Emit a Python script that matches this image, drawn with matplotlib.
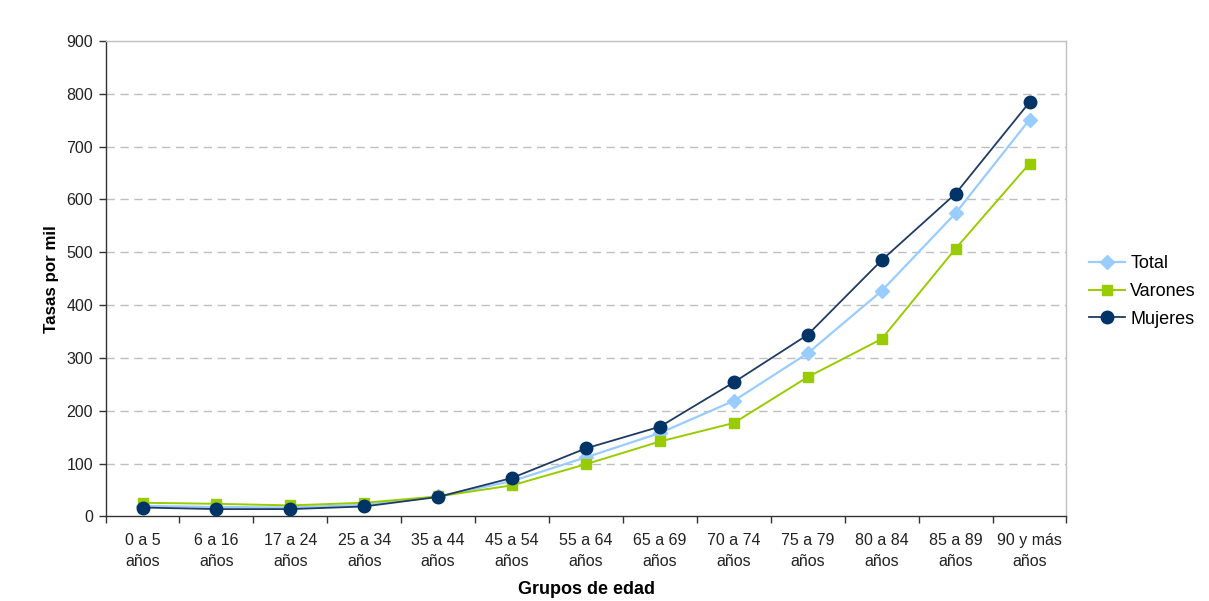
import matplotlib
matplotlib.use("Agg")
import matplotlib.pyplot as plt
import numpy as np

plt.rcParams['font.family'] = ['Liberation Sans', 'DejaVu Sans']

categories = ["0 a 5\naños", "6 a 16\naños", "17 a 24\naños", "25 a 34\naños", "35 a 44\naños",
              "45 a 54\naños", "55 a 64\naños", "65 a 69\naños", "70 a 74\naños", "75 a 79\naños",
              "80 a 84\naños", "85 a 89\naños", "90 y más\naños"]
total = [20, 18, 17, 22, 38, 67, 112, 158, 219, 309, 427, 574, 751]
varones = [26, 24, 21, 26, 38, 59, 99, 142, 177, 264, 336, 507, 668]
mujeres = [17, 14, 14, 19, 37, 73, 129, 170, 254, 344, 485, 611, 784]
yticks = [0, 100, 200, 300, 400, 500, 600, 700, 800, 900]

fig = plt.figure(figsize=(12.09, 6.01), dpi=100)
ax = fig.add_axes([0.0873, 0.1406, 0.7948, 0.7912])

x = np.arange(len(categories))
ax.plot(x, total, color='#99CCFF', lw=1.6, marker='D', markersize=7, label='Total', zorder=3)
ax.plot(x, varones, color='#99CC00', lw=1.4, marker='s', markersize=7, label='Varones', zorder=3)
ax.plot(x, mujeres, color='#1F3B63', lw=1.3, marker='o', markersize=9,
        markerfacecolor='#003366', markeredgecolor='#003366', label='Mujeres', zorder=4)

ax.set_xlim(-0.5, len(categories) - 0.5)
ax.set_ylim(0, 900)
ax.set_yticks(yticks)
ax.set_yticklabels([str(v) for v in yticks], fontsize=11.5, color='#222222')
ax.set_xticks(x)
ax.set_xticklabels(categories, fontsize=11.5, color='#222222', linespacing=1.45)
ax.tick_params(axis='x', which='major', length=0, pad=12)
ax.set_xticks(np.arange(-0.5, len(categories), 1), minor=True)
ax.tick_params(axis='x', which='minor', length=5, width=1, color='#333333', direction='out')
ax.tick_params(axis='y', length=5, width=1, color='#333333', direction='out', pad=4)

for v in yticks[1:-1]:
    ax.axhline(v, color='#BFBFBF', lw=1, ls=(0, (6, 4)), zorder=1)

for side in ['top', 'right']:
    ax.spines[side].set_color('#C0C0C0')
    ax.spines[side].set_linewidth(1)
for side in ['left', 'bottom']:
    ax.spines[side].set_color('#333333')
    ax.spines[side].set_linewidth(1)

ax.set_ylabel('Tasas por mil', fontsize=12.2, fontweight='bold', labelpad=5)
ax.set_xlabel('Grupos de edad', fontsize=13, fontweight='bold', labelpad=9)

leg = fig.legend(loc='center left', bbox_to_anchor=(0.887, 0.515), frameon=False,
                 fontsize=13, handlelength=2.0, handletextpad=0.3, labelspacing=0.6)

fig.savefig('out.png', dpi=100, facecolor='white')
